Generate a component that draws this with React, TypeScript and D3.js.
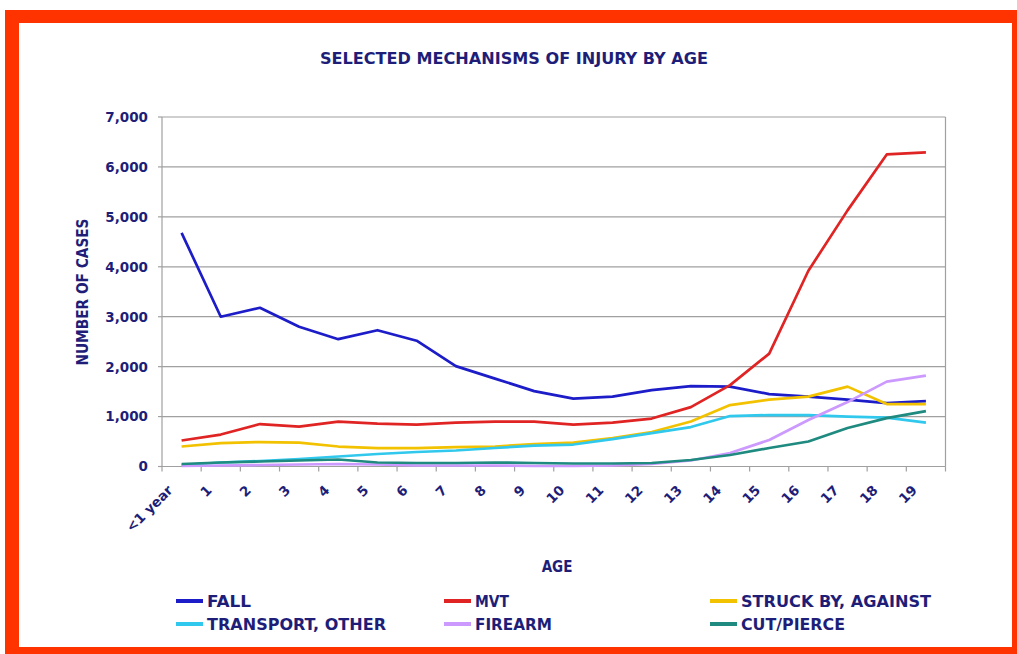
import React from "react";
import * as d3 from "d3";

const ages = ["<1 year", "1", "2", "3", "4", "5", "6", "7", "8", "9", "10", "11", "12", "13", "14", "15", "16", "17", "18", "19"];
const fall = [4680, 3000, 3180, 2800, 2550, 2730, 2520, 2010, 1760, 1510, 1360, 1400, 1530, 1610, 1600, 1450, 1400, 1340, 1270, 1310];
const mvt = [520, 640, 850, 800, 900, 860, 840, 880, 900, 900, 840, 880, 960, 1190, 1630, 2260, 3920, 5130, 6250, 6290];
const struck = [400, 470, 490, 480, 400, 370, 370, 390, 400, 450, 480, 570, 690, 900, 1230, 1340, 1400, 1600, 1250, 1250];
const transport = [30, 80, 110, 150, 200, 250, 290, 320, 370, 420, 440, 550, 670, 790, 1010, 1030, 1030, 1000, 980, 880];
const firearm = [10, 20, 30, 40, 50, 40, 20, 20, 20, 10, 10, 20, 50, 120, 270, 530, 930, 1290, 1700, 1820];
const cutPierce = [50, 80, 100, 120, 140, 80, 70, 70, 80, 70, 60, 60, 70, 130, 230, 370, 500, 770, 970, 1110];
const yTicks = [0, 1000, 2000, 3000, 4000, 5000, 6000, 7000];

const seriesNames = ["FALL", "MVT", "STRUCK BY, AGAINST", "TRANSPORT, OTHER", "FIREARM", "CUT/PIERCE"];
const seriesColors = ["#1c1cc8", "#e02424", "#f2c200", "#30c8ec", "#cc99ff", "#1f8a80"];
const seriesData = [fall, mvt, struck, transport, firearm, cutPierce];
const legendWidths = [44, 34, 190, 179, 77, 104];

const NAVY = "#1e1e78";
const FONT = "'DejaVu Sans', Verdana, sans-serif";
const FONT_C = "'DejaVu Sans Condensed', 'DejaVu Sans', sans-serif";

export default function App() {
  const W = 1017, H = 654;
  const left = 162, right = 945.5, top = 117, bottom = 466.5;
  const x = d3.scaleBand<string>().domain(ages).range([left, right]).padding(0);
  const y = d3.scaleLinear().domain([0, 7000]).range([bottom, top]);
  const cx = (i: number) => (x(ages[i]) as number) + x.bandwidth() / 2;
  const line = (vals: number[]) =>
    d3.line<number>().x((_, i) => cx(i)).y((v) => y(v)).curve(d3.curveLinear)(vals) as string;

  const legendCols = [176, 444, 710];
  const legendRows = [601, 624];

  return (
    <svg width={W} height={H} style={{ position: "absolute", left: 0, top: 0, background: "#fff" }}>
      <rect x={0} y={0} width={W} height={H} fill="#ffffff" />
      <rect x={5} y={10} width={W - 5} height={H - 10} fill="#ff3300" />
      <rect x={19} y={23} width={1012 - 19} height={647 - 23} fill="#ffffff" />

      <text x={320} y={64} textLength={388} lengthAdjust="spacingAndGlyphs" fontFamily={FONT_C} fontWeight="bold" fontSize={16.5} fill={NAVY}>
        SELECTED MECHANISMS OF INJURY BY AGE
      </text>

      {yTicks.map((t) => (
        <line key={"g" + t} x1={left} x2={right} y1={y(t)} y2={y(t)} stroke="#a0a0a0" strokeWidth={1.2} />
      ))}
      <line x1={right} x2={right} y1={top} y2={bottom} stroke="#a0a0a0" strokeWidth={1.2} />
      <line x1={left} x2={left} y1={top} y2={bottom} stroke="#a0a0a0" strokeWidth={1.2} />
      {yTicks.map((t) => (
        <line key={"yt" + t} x1={left - 4} x2={left} y1={y(t)} y2={y(t)} stroke="#a0a0a0" strokeWidth={1.2} />
      ))}
      {yTicks.map((t) => (
        <text key={"yl" + t} x={148} y={y(t)} dy="0.36em" textAnchor="end" fontFamily={FONT} fontWeight="bold" fontSize={13.5} fill={NAVY}>
          {d3.format(",")(t)}
        </text>
      ))}
      {d3.range(ages.length + 1).map((k) => {
        const xx = left + k * x.bandwidth();
        return <line key={"xt" + k} x1={xx} x2={xx} y1={bottom} y2={bottom + 5} stroke="#a0a0a0" strokeWidth={1.2} />;
      })}
      {ages.map((a, i) => (
        <text key={"xl" + a} transform={`translate(${cx(i) - 8},${491}) rotate(-45)`} textAnchor="end" fontFamily={FONT} fontWeight="bold" fontSize={13.5} fill={NAVY}>
          {a}
        </text>
      ))}

      <text transform="translate(88,292) rotate(-90)" textAnchor="middle" textLength={147} lengthAdjust="spacingAndGlyphs" fontFamily={FONT_C} fontWeight="bold" fontSize={15} fill={NAVY}>
        NUMBER OF CASES
      </text>
      <text x={557} y={572} textAnchor="middle" fontFamily={FONT_C} fontWeight="bold" fontSize={15} fill={NAVY}>
        AGE
      </text>

      {seriesData.map((vals, s) => (
        <path key={"s" + s} d={line(vals)} fill="none" stroke={seriesColors[s]} strokeWidth={2.7} strokeLinejoin="round" />
      ))}

      {seriesNames.map((n, s) => {
        const col = s % 3, row = Math.floor(s / 3);
        const lx = legendCols[col], ly = legendRows[row];
        return (
          <g key={"lg" + s}>
            <line x1={lx} x2={lx + 27} y1={ly} y2={ly} stroke={seriesColors[s]} strokeWidth={4} />
            <text x={lx + 31} y={ly} dy="0.38em" textLength={legendWidths[s]} lengthAdjust="spacingAndGlyphs" fontFamily={FONT_C} fontWeight="bold" fontSize={16.5} fill={NAVY}>
              {n}
            </text>
          </g>
        );
      })}
    </svg>
  );
}
